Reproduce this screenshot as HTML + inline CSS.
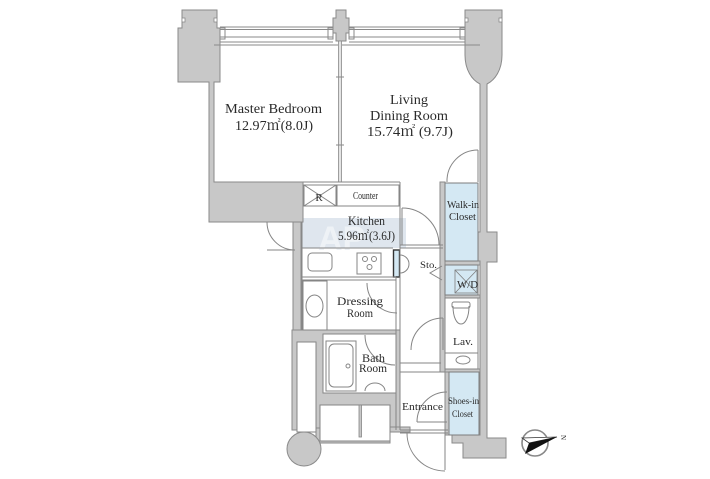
<!DOCTYPE html>
<html><head><meta charset="utf-8"><style>
html,body{margin:0;padding:0;background:#fff;}
svg{display:block;}
text{font-family:"Liberation Serif","Noto Serif CJK JP",serif;fill:#2a2a2a;}
</style></head><body>
<svg width="710" height="479" viewBox="0 0 710 479" xmlns="http://www.w3.org/2000/svg">
<rect width="710" height="479" fill="#fff"/>

<!-- watermark band -->
<rect x="299" y="218" width="107" height="30" fill="#dfe6ee"/>
<text x="318" y="250" font-size="34" font-weight="bold" style="fill:#eef2f6;font-family:'Liberation Sans',sans-serif">AP</text>

<!-- gray walls -->
<g fill="#c8c8c8" stroke="#8a8a8a" stroke-width="1">
 <polygon points="182,10 217,10 217,28 220,28 220,82 214,82 214,182 303,182 303,222 209,222 209,82 178,82 178,28 182,28"/>
 <polygon points="336,10 346,10 346,18 349,18 349,33 346,33 346,41 336,41 336,33 333,33 333,18 336,18"/>
 <path d="M465,10 H502 V55 C502,70 495,80 487,84 V232 H497 V262 H487 V438 H506 V458 H463 V443 H452 V435 H480 V262 H470 V232 H480 V84 C472,80 465,70 465,55 Z"/>
 <rect x="293" y="222" width="8" height="108"/>
 <rect x="292" y="330" width="108" height="100"/>
 <rect x="316" y="428" width="74" height="15"/>
 <rect x="390" y="427" width="20" height="5"/>
 <rect x="440" y="182" width="5" height="190"/>
 <rect x="445" y="369" width="35" height="3"/>
 <rect x="445" y="372" width="4" height="63"/>
 <rect x="445" y="295" width="35" height="3"/>
 <rect x="445" y="261" width="35" height="4"/>
</g>
<!-- pillar notches -->
<g fill="#fff" stroke="#8a8a8a" stroke-width="0.8">
 <rect x="182" y="18" width="3" height="4"/><rect x="214" y="18" width="3" height="4"/>
 <rect x="465" y="18" width="3" height="4"/><rect x="499" y="18" width="3" height="4"/>
</g>

<!-- windows -->
<g stroke="#8a8a8a" stroke-width="1" fill="none">
 <line x1="220" y1="27" x2="333" y2="27"/><line x1="220" y1="29.5" x2="333" y2="29.5"/>
 <line x1="220" y1="37" x2="333" y2="37"/><line x1="220" y1="42" x2="333" y2="42"/>
 <line x1="214" y1="45" x2="338" y2="45"/>
 <line x1="349" y1="27" x2="465" y2="27"/><line x1="349" y1="29.5" x2="465" y2="29.5"/>
 <line x1="349" y1="37" x2="465" y2="37"/><line x1="349" y1="42" x2="465" y2="42"/>
 <line x1="342" y1="45" x2="480" y2="45"/>
 <rect x="220" y="28" width="5" height="11"/><rect x="328" y="28" width="5" height="11"/>
 <rect x="349" y="28" width="5" height="11"/><rect x="460" y="28" width="5" height="11"/>
</g>

<!-- partition bedroom/living -->
<rect x="338.5" y="41" width="3" height="141" fill="#e4e4e4" stroke="#8a8a8a" stroke-width="0.8"/>
<g stroke="#8a8a8a" stroke-width="1"><line x1="336" y1="77" x2="344" y2="77"/><line x1="336" y1="145" x2="344" y2="145"/></g>

<!-- light blue rooms -->
<g fill="#d4e8f3" stroke="#7d7d7d" stroke-width="1">
 <rect x="445" y="183" width="33" height="78"/>
 <rect x="445" y="265" width="33" height="30"/>
 <rect x="449" y="372" width="30" height="63"/>
 <rect x="393.5" y="250" width="6" height="27" stroke="#333" stroke-width="1.4"/>
</g>
<!-- W/D X box -->
<g stroke="#7d7d7d" stroke-width="0.8" fill="none">
 <rect x="455" y="270" width="22" height="23"/>
 <line x1="455" y1="270" x2="477" y2="293"/><line x1="477" y1="270" x2="455" y2="293"/>
</g>

<!-- room lines -->
<g stroke="#858585" stroke-width="1" fill="none">
 <!-- kitchen -->
 <line x1="303" y1="182" x2="400" y2="182"/>
 <line x1="302" y1="222" x2="302" y2="330"/>
 <line x1="400" y1="182" x2="400" y2="245"/>
 <rect x="304" y="185" width="32" height="21"/>
 <line x1="304" y1="185" x2="336" y2="206"/><line x1="336" y1="185" x2="304" y2="206"/>
 <rect x="337" y="185" width="62" height="21"/>
 <line x1="302" y1="248" x2="393" y2="248"/>
 <line x1="302" y1="277" x2="396" y2="277"/>
 <line x1="302" y1="280" x2="396" y2="280"/>
 <rect x="308" y="253" width="24" height="18" rx="4"/>
 <rect x="357" y="253" width="24" height="21"/>
 <circle cx="365" cy="259" r="2.5"/><circle cx="374" cy="259" r="2.5"/><circle cx="369.5" cy="267" r="2.5"/>
 <!-- left kitchen door -->
 <path d="M267,222 A28,28 0 0 0 295,250"/>
 <line x1="267" y1="250" x2="295" y2="250"/>
 <!-- hallway wall -->
 <line x1="400" y1="245" x2="443" y2="245"/>
 <line x1="400" y1="248" x2="443" y2="248"/>
 <line x1="396" y1="277" x2="396" y2="430"/>
 <line x1="400" y1="245" x2="400" y2="430"/>
 <!-- kitchen/living door -->
 <line x1="402" y1="208" x2="402" y2="245"/>
 <path d="M402,208 A37,37 0 0 1 439,245"/>
 <!-- walk-in door -->
 <line x1="478" y1="150" x2="478" y2="182"/>
 <path d="M478,150 A31,31 0 0 0 447,182"/>
 <!-- sto doors -->
 <path d="M400,255 A9,9 0 0 1 409,264"/><path d="M400,273 A9,9 0 0 0 409,264"/>
 <polyline points="442,266 430,273 442,280"/>
 <!-- dressing -->
 <rect x="303" y="281" width="24" height="49"/>
 <ellipse cx="314.5" cy="306" rx="8.5" ry="11"/>
 <path d="M367,283 A30,30 0 0 0 397,313"/>
 <!-- lav -->
 <rect x="445" y="298" width="33" height="71" fill="#fff"/>
 <line x1="445" y1="353" x2="478" y2="353"/>
 <rect x="452" y="302" width="18" height="6" rx="2"/>
 <path d="M453,306 C453,330 469,330 469,306"/>
 <ellipse cx="463" cy="360" rx="7" ry="4"/>
 <line x1="443" y1="318" x2="443" y2="350"/>
 <path d="M443,318 A32,32 0 0 0 411,350"/>
 <!-- entrance -->
 <line x1="400" y1="363" x2="441" y2="363"/>
 <line x1="400" y1="372" x2="445" y2="372"/>
 <path d="M447,392 A30,30 0 0 0 417,422"/>
 <line x1="417" y1="422" x2="447" y2="422"/>
 <line x1="400" y1="430" x2="448" y2="430"/>
 <line x1="400" y1="433" x2="448" y2="433"/>
 <line x1="445" y1="433" x2="445" y2="470"/>
 <path d="M407,433 A38,38 0 0 0 445,471"/>
</g>

<!-- lower-left white rooms -->
<g fill="#fff" stroke="#858585" stroke-width="1">
 <rect x="297" y="342" width="19" height="90"/>
 <rect x="323" y="334" width="73" height="59"/>
 <rect x="320" y="405" width="70" height="36"/>
</g>
<rect x="359" y="405" width="2.5" height="32" fill="#c8c8c8" stroke="#858585" stroke-width="0.8"/>
<circle cx="304" cy="449" r="17" fill="#c8c8c8" stroke="#8a8a8a"/>
<g stroke="#858585" stroke-width="1" fill="none">
 <rect x="326" y="341" width="30" height="50"/>
 <rect x="329" y="344" width="24" height="43" rx="5"/>
 <circle cx="348" cy="366" r="2"/>
 <path d="M365,335 A30,30 0 0 0 395,365"/>
 <path d="M365,391 A10,8 0 0 1 385,391"/>
</g>

<!-- compass -->
<circle cx="535" cy="443" r="13" fill="none" stroke="#888" stroke-width="1.6"/>
<polygon points="522,438 557,437 529,443" fill="#fff" stroke="#333" stroke-width="0.8"/>
<polygon points="525,454 557,437 529,443" fill="#111"/>
<text x="559" y="437" font-size="7" transform="rotate(90 561 437)">N</text>

<!-- labels -->
<text x="273.5" y="113" font-size="14" text-anchor="middle" textLength="97" lengthAdjust="spacingAndGlyphs">Master Bedroom</text>
<text x="274" y="130" font-size="14" text-anchor="middle" textLength="78" lengthAdjust="spacingAndGlyphs">12.97㎡(8.0J)</text>
<text x="409" y="104" font-size="14" text-anchor="middle" textLength="38" lengthAdjust="spacingAndGlyphs">Living</text>
<text x="409" y="120" font-size="14" text-anchor="middle" textLength="78" lengthAdjust="spacingAndGlyphs">Dining Room</text>
<text x="410" y="136" font-size="14" text-anchor="middle" textLength="86" lengthAdjust="spacingAndGlyphs">15.74㎡ (9.7J)</text>
<text x="365.5" y="199" font-size="10" text-anchor="middle" textLength="25" lengthAdjust="spacingAndGlyphs">Counter</text>
<text x="319" y="201" font-size="11" text-anchor="middle">R</text>
<text x="366.5" y="225" font-size="12.5" text-anchor="middle" textLength="37" lengthAdjust="spacingAndGlyphs">Kitchen</text>
<text x="366.5" y="240" font-size="12.5" text-anchor="middle" textLength="57" lengthAdjust="spacingAndGlyphs">5.96㎡(3.6J)</text>
<text x="463" y="208" font-size="10.5" text-anchor="middle" textLength="32" lengthAdjust="spacingAndGlyphs">Walk-in</text>
<text x="462.5" y="220" font-size="10.5" text-anchor="middle" textLength="27" lengthAdjust="spacingAndGlyphs">Closet</text>
<text x="428.5" y="268" font-size="9" text-anchor="middle" textLength="17" lengthAdjust="spacingAndGlyphs">Sto.</text>
<text x="467.5" y="288" font-size="11" text-anchor="middle" textLength="21" lengthAdjust="spacingAndGlyphs">W/D</text>
<text x="360" y="305" font-size="12" text-anchor="middle" textLength="46" lengthAdjust="spacingAndGlyphs">Dressing</text>
<text x="360" y="317" font-size="12" text-anchor="middle" textLength="26" lengthAdjust="spacingAndGlyphs">Room</text>
<text x="373.5" y="362" font-size="12" text-anchor="middle" textLength="23" lengthAdjust="spacingAndGlyphs">Bath</text>
<text x="373" y="372" font-size="12" text-anchor="middle" textLength="28" lengthAdjust="spacingAndGlyphs">Room</text>
<text x="463" y="345" font-size="11" text-anchor="middle" textLength="20" lengthAdjust="spacingAndGlyphs">Lav.</text>
<text x="422.5" y="410" font-size="11" text-anchor="middle" textLength="41" lengthAdjust="spacingAndGlyphs">Entrance</text>
<text x="463.5" y="404" font-size="9.5" text-anchor="middle" textLength="31" lengthAdjust="spacingAndGlyphs">Shoes-in</text>
<text x="462.5" y="417" font-size="9.5" text-anchor="middle" textLength="21" lengthAdjust="spacingAndGlyphs">Closet</text>
</svg>
</body></html>
